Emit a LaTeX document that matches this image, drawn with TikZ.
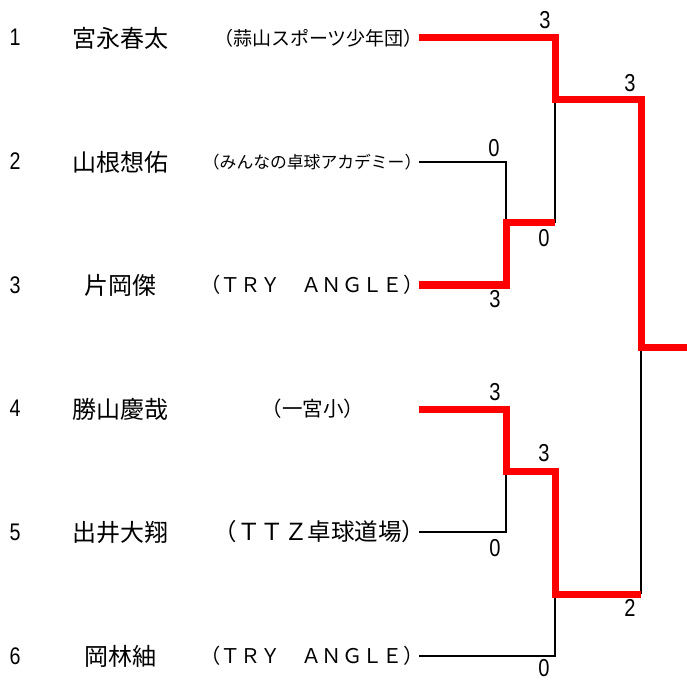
\documentclass[tikz,border=0pt]{standalone}
\usepackage{fontspec}
\setmainfont{Liberation Sans}
\newfontfamily\numf[FakeStretch=0.82]{Liberation Sans}
\newfontfamily\jp{Noto Sans CJK JP}
\begin{document}
\begin{tikzpicture}[x=1pt,y=-1pt,
  num/.style={inner sep=0pt,font=\numf\fontsize{24}{24}\selectfont},
  pname/.style={inner sep=0pt,font=\jp\fontsize{24}{24}\selectfont},
  aff/.style={inner sep=0pt,anchor=east},
  score/.style={inner sep=0pt,font=\numf\fontsize{24.5}{25}\selectfont},
  lose/.style={draw=black,line width=2.5pt},
  win/.style={draw=red,line width=7pt,line join=miter}]
\useasboundingbox (0,0) rectangle (687,684);
% left numbers
\node[num] (n1) at (15,37) {1};
\node[num] (n2) at (15,161) {2};
\node[num] (n3) at (15,285) {3};
\node[num] (n4) at (15,408) {4};
\node[num] (n5) at (15,532) {5};
\node[num] (n6) at (15,656) {6};
% names
\node[pname] (nm1) at (120,38) {宮永春太};
\node[pname] (nm2) at (120,162) {山根想佑};
\node[pname] (nm3) at (120,285) {片岡傑};
\node[pname] (nm4) at (120,409) {勝山慶哉};
\node[pname] (nm5) at (120,532) {出井大翔};
\node[pname] (nm6) at (120,656) {岡林紬};
% affiliations
\node[aff,font=\jp\fontsize{19}{19}\selectfont] (a1) at (423,38) {（蒜山スポーツ少年団）};
\node[aff,font=\jp\fontsize{16.8}{17}\selectfont] (a2) at (421.5,162) {（みんなの卓球アカデミー）};
\node[aff,font=\jp\fontsize{20.3}{20}\selectfont] (a3) at (423.5,285) {（ＴＲＹ　ＡＮＧＬＥ）};
\node[inner sep=0pt,font=\jp\fontsize{20.5}{21}\selectfont] (a4) at (313,409) {（一宮小）};
\node[aff,font=\jp\fontsize{23.5}{24}\selectfont] (a5) at (425.5,532) {（ＴＴＺ卓球道場）};
\node[aff,font=\jp\fontsize{20.3}{20}\selectfont] (a6) at (423.5,656) {（ＴＲＹ　ＡＮＧＬＥ）};
% bracket coordinates
\coordinate (p1) at (419,38);
\coordinate (p2) at (419,162);
\coordinate (p3) at (419,285);
\coordinate (p4) at (419,409);
\coordinate (p5) at (419,532);
\coordinate (p6) at (419,656);
\coordinate (c23) at (506,223);
\coordinate (c1) at (555,100);
\coordinate (c45) at (506,471);
\coordinate (c6) at (555,594);
\coordinate (f) at (641,347);
\coordinate (w) at (687,347);
% losing lines
\draw[lose] (p2) -| (c23);
\draw[lose] (c1) -- (c1 |- c23);
\draw[lose] (p5) -| (c45);
\draw[lose] (p6) -| (c6);
\draw[lose] (f) -- (f |- c6);
% winning lines
\draw[win] (p1) -| (c1) -- (c1 -| f) -- (f) -- (w);
\draw[win] (p3) -| (c23) -- (c1 |- c23);
\draw[win] (p4) -| (c45) -- (c6 |- c45) -- (c6) -- (c6 -| f);
% scores
\node[score] (s1) at (545,20) {3};
\node[score] (s2) at (630,83) {3};
\node[score] (s3) at (494,148) {0};
\node[score] (s4) at (544,238) {0};
\node[score] (s5) at (495,299.5) {3};
\node[score] (s6) at (495,392) {3};
\node[score] (s7) at (544,453) {3};
\node[score] (s8) at (495,548) {0};
\node[score] (s9) at (630,608) {2};
\node[score] (s10) at (544,668) {0};
\end{tikzpicture}
\end{document}
